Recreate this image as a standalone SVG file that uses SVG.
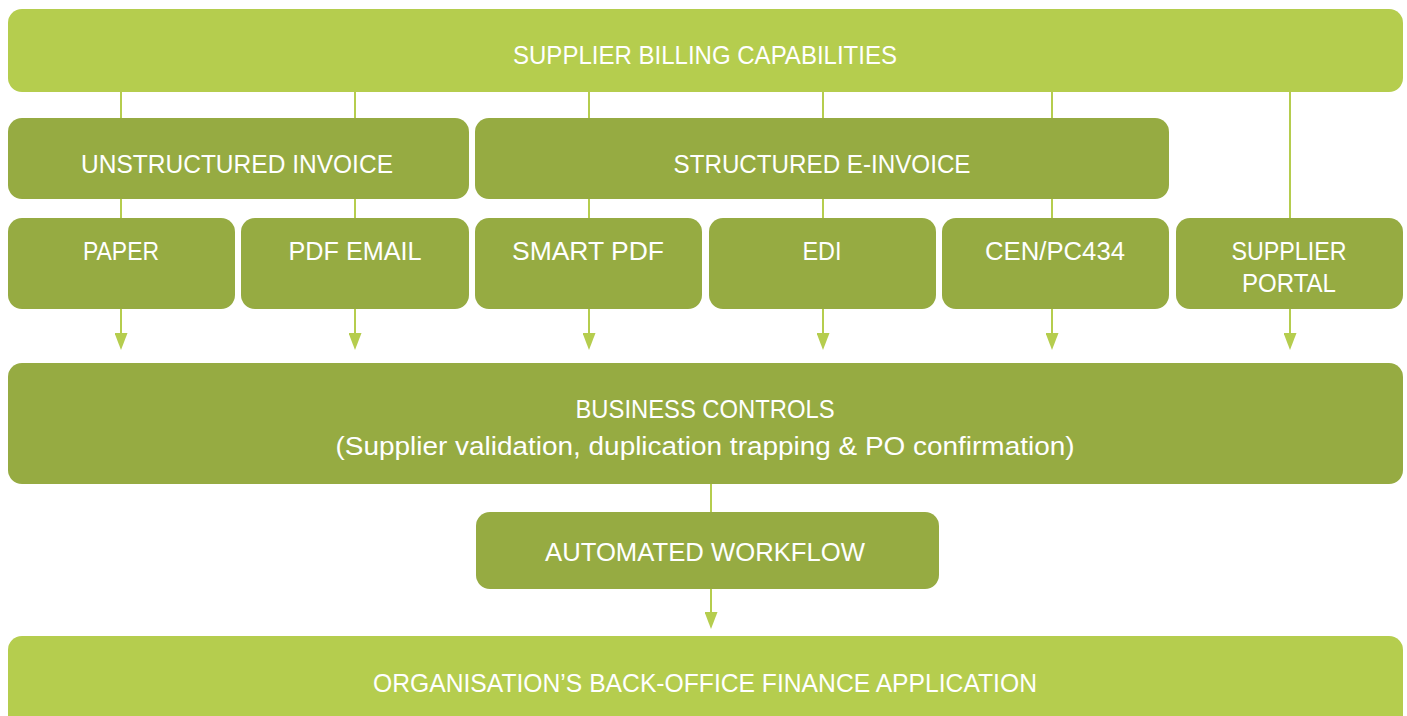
<svg xmlns="http://www.w3.org/2000/svg" width="1407" height="716" viewBox="0 0 1407 716">
  <style>
    .light { fill: #b5cd4e; }
    .dark { fill: #96ab42; }
    .lbl { font-family: "Liberation Sans", Arial, sans-serif; font-size: 26px; fill: #ffffff; text-anchor: middle; }
    .con { stroke: #b5cd4e; stroke-width: 2; fill: none; }
  </style>
  <defs>
    <marker id="arrow" markerUnits="userSpaceOnUse" markerWidth="17" markerHeight="13" viewBox="0 -6.5 17 13" refX="2" refY="0" orient="auto">
      <path d="M0,-6.5 L17,0 L0,6.5 Z" fill="#b5cd4e"/>
    </marker>
  </defs>
  <rect width="1407" height="716" fill="#ffffff"/>
  <g id="connectors">
    <line class="con" x1="121" y1="92" x2="121" y2="335" marker-end="url(#arrow)"/>
    <line class="con" x1="355" y1="92" x2="355" y2="335" marker-end="url(#arrow)"/>
    <line class="con" x1="589" y1="92" x2="589" y2="335" marker-end="url(#arrow)"/>
    <line class="con" x1="823" y1="92" x2="823" y2="335" marker-end="url(#arrow)"/>
    <line class="con" x1="1052" y1="92" x2="1052" y2="335" marker-end="url(#arrow)"/>
    <line class="con" x1="1290" y1="92" x2="1290" y2="335" marker-end="url(#arrow)"/>
    <line class="con" x1="711" y1="484" x2="711" y2="614" marker-end="url(#arrow)"/>
  </g>
  <g id="supplier-billing">
    <rect class="light" x="8" y="9" width="1395" height="83" rx="14"/>
    <text class="lbl" x="705" y="64" textLength="384" lengthAdjust="spacingAndGlyphs">SUPPLIER BILLING CAPABILITIES</text>
  </g>
  <g id="unstructured">
    <rect class="dark" x="8" y="118" width="461" height="81" rx="14"/>
    <text class="lbl" x="237" y="173" textLength="312" lengthAdjust="spacingAndGlyphs">UNSTRUCTURED INVOICE</text>
  </g>
  <g id="structured">
    <rect class="dark" x="475" y="118" width="694" height="81" rx="14"/>
    <text class="lbl" x="822" y="173" textLength="297" lengthAdjust="spacingAndGlyphs">STRUCTURED E-INVOICE</text>
  </g>
  <g id="paper">
    <rect class="dark" x="8" y="218" width="227" height="91" rx="14"/>
    <text class="lbl" x="121" y="260" textLength="76" lengthAdjust="spacingAndGlyphs">PAPER</text>
  </g>
  <g id="pdf-email">
    <rect class="dark" x="241" y="218" width="228" height="91" rx="14"/>
    <text class="lbl" x="355" y="260" textLength="133" lengthAdjust="spacingAndGlyphs">PDF EMAIL</text>
  </g>
  <g id="smart-pdf">
    <rect class="dark" x="475" y="218" width="227" height="91" rx="14"/>
    <text class="lbl" x="588" y="260" textLength="152" lengthAdjust="spacingAndGlyphs">SMART PDF</text>
  </g>
  <g id="edi">
    <rect class="dark" x="709" y="218" width="227" height="91" rx="14"/>
    <text class="lbl" x="822" y="260" textLength="39" lengthAdjust="spacingAndGlyphs">EDI</text>
  </g>
  <g id="cen">
    <rect class="dark" x="942" y="218" width="227" height="91" rx="14"/>
    <text class="lbl" x="1055" y="260" textLength="140" lengthAdjust="spacingAndGlyphs">CEN/PC434</text>
  </g>
  <g id="supplier-portal">
    <rect class="dark" x="1176" y="218" width="227" height="91" rx="14"/>
    <text class="lbl" x="1289" y="260" textLength="115" lengthAdjust="spacingAndGlyphs">SUPPLIER</text>
    <text class="lbl" x="1289" y="292" textLength="94" lengthAdjust="spacingAndGlyphs">PORTAL</text>
  </g>
  <g id="business-controls">
    <rect class="dark" x="8" y="363" width="1395" height="121" rx="14"/>
    <text class="lbl" x="705" y="418" textLength="259" lengthAdjust="spacingAndGlyphs">BUSINESS CONTROLS</text>
    <text class="lbl" x="705" y="455" textLength="739" lengthAdjust="spacingAndGlyphs">(Supplier validation, duplication trapping &amp; PO confirmation)</text>
  </g>
  <g id="automated-workflow">
    <rect class="dark" x="476" y="512" width="463" height="77" rx="14"/>
    <text class="lbl" x="705" y="561" textLength="320" lengthAdjust="spacingAndGlyphs">AUTOMATED WORKFLOW</text>
  </g>
  <g id="back-office">
    <rect class="light" x="8" y="636" width="1395" height="100" rx="14"/>
    <text class="lbl" x="705" y="692" textLength="664" lengthAdjust="spacingAndGlyphs">ORGANISATION’S BACK-OFFICE FINANCE APPLICATION</text>
  </g>
</svg>
